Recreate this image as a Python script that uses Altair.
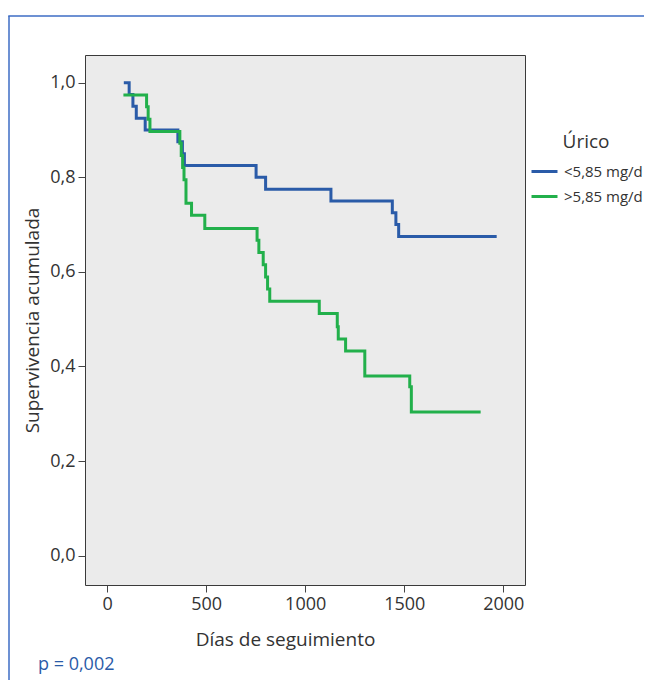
import altair as alt
import pandas as pd

# ---- data ----
grupos = ["<5,85 mg/d", ">5,85 mg/d"]
colores = ["#2a5ba8", "#22b04b"]

dias_bajo = [84, 111, 130, 147, 192, 357, 380, 390, 752, 800, 1130, 1440, 1458, 1472, 1967]
surv_bajo = [1.0, 0.975, 0.95, 0.925, 0.9, 0.875, 0.85, 0.825, 0.8, 0.775, 0.75, 0.725, 0.7, 0.675, 0.675]

dias_alto = [82, 199, 207, 216, 367, 374, 381, 388, 398, 426, 493, 757, 766, 788, 800,
             810, 821, 1071, 1162, 1167, 1204, 1301, 1528, 1536, 1886]
surv_alto = [0.974, 0.949, 0.923, 0.897, 0.872, 0.846, 0.821, 0.795, 0.745, 0.72, 0.692,
             0.667, 0.641, 0.615, 0.589, 0.564, 0.538, 0.512, 0.484, 0.458, 0.433, 0.38,
             0.357, 0.304, 0.304]

x_ticks = [0, 500, 1000, 1500, 2000]
y_ticks = [0.0, 0.2, 0.4, 0.6, 0.8, 1.0]
p_valor = "p = 0,002"

df = pd.DataFrame({
    "dias": dias_bajo + dias_alto,
    "surv": surv_bajo + surv_alto,
    "grupo": [grupos[0]] * len(dias_bajo) + [grupos[1]] * len(dias_alto),
})

FONT = "Open Sans"
TXT = "#333333"
W, H = 440, 530

lines = alt.Chart(df).mark_line(interpolate="step-after", strokeWidth=3).encode(
    x=alt.X("dias:Q",
            scale=alt.Scale(domain=[-112, 2110], nice=False, zero=False),
            axis=alt.Axis(values=x_ticks, title="Días de seguimiento", format="d",
                          titleX=200, titleAlign="center", titlePadding=17,
                          labelPadding=3)),
    y=alt.Y("surv:Q",
            scale=alt.Scale(domain=[-0.062, 1.0586], nice=False, zero=False),
            axis=alt.Axis(values=y_ticks, title="Supervivencia acumulada",
                          labelExpr="replace(format(datum.value, '.1f'), '.', ',')",
                          labelPadding=3, titlePadding=7)),
    color=alt.Color("grupo:N",
                    scale=alt.Scale(domain=grupos, range=colores),
                    legend=alt.Legend(title="Úrico", orient="none", legendX=445, legendY=78,
                                      symbolType="stroke", symbolSize=676,
                                      symbolStrokeWidth=3, labelOffset=5, rowPadding=2,
                                      titleAnchor="middle", titleAlign="center",
                                      titlePadding=5, labelFontSize=15,
                                      titleFontSize=19, labelFont=FONT, titleFont=FONT,
                                      titleFontWeight="normal", labelColor=TXT,
                                      titleColor=TXT)),
)

one = pd.DataFrame({"a": [0]})
borde = alt.Chart(one).mark_rule(color="#3d6dc4", strokeWidth=1.5)
borde_izq = borde.encode(x=alt.value(-76), y=alt.value(-39), y2=alt.value(640))
borde_sup = borde.encode(x=alt.value(-76.75), x2=alt.value(600), y=alt.value(-39))

ptxt = alt.Chart(one).mark_text(text=p_valor, align="left", baseline="middle",
                                fontSize=18, font=FONT, color="#2a5ba8").encode(
    x=alt.value(38 - 85), y=alt.value(665 - 55))

chart = alt.layer(borde_izq, borde_sup, lines, ptxt).properties(
    width=W, height=H,
    autosize=alt.AutoSizeParams(type="none"),
    padding={"left": 77, "top": 47, "right": 119, "bottom": 95},
    background="white",
).configure_view(
    fill="#ebebeb", stroke="#3a3a3a", strokeWidth=1,
).configure_axis(
    domain=False, grid=False, tickColor="#444444", tickSize=7, tickWidth=1,
    labelFont=FONT, labelFontSize=18, labelColor=TXT,
    titleFont=FONT, titleFontSize=19, titleFontWeight="normal", titleColor=TXT,
)

chart.save("out.html", embed_options={"renderer": "svg", "actions": False})
